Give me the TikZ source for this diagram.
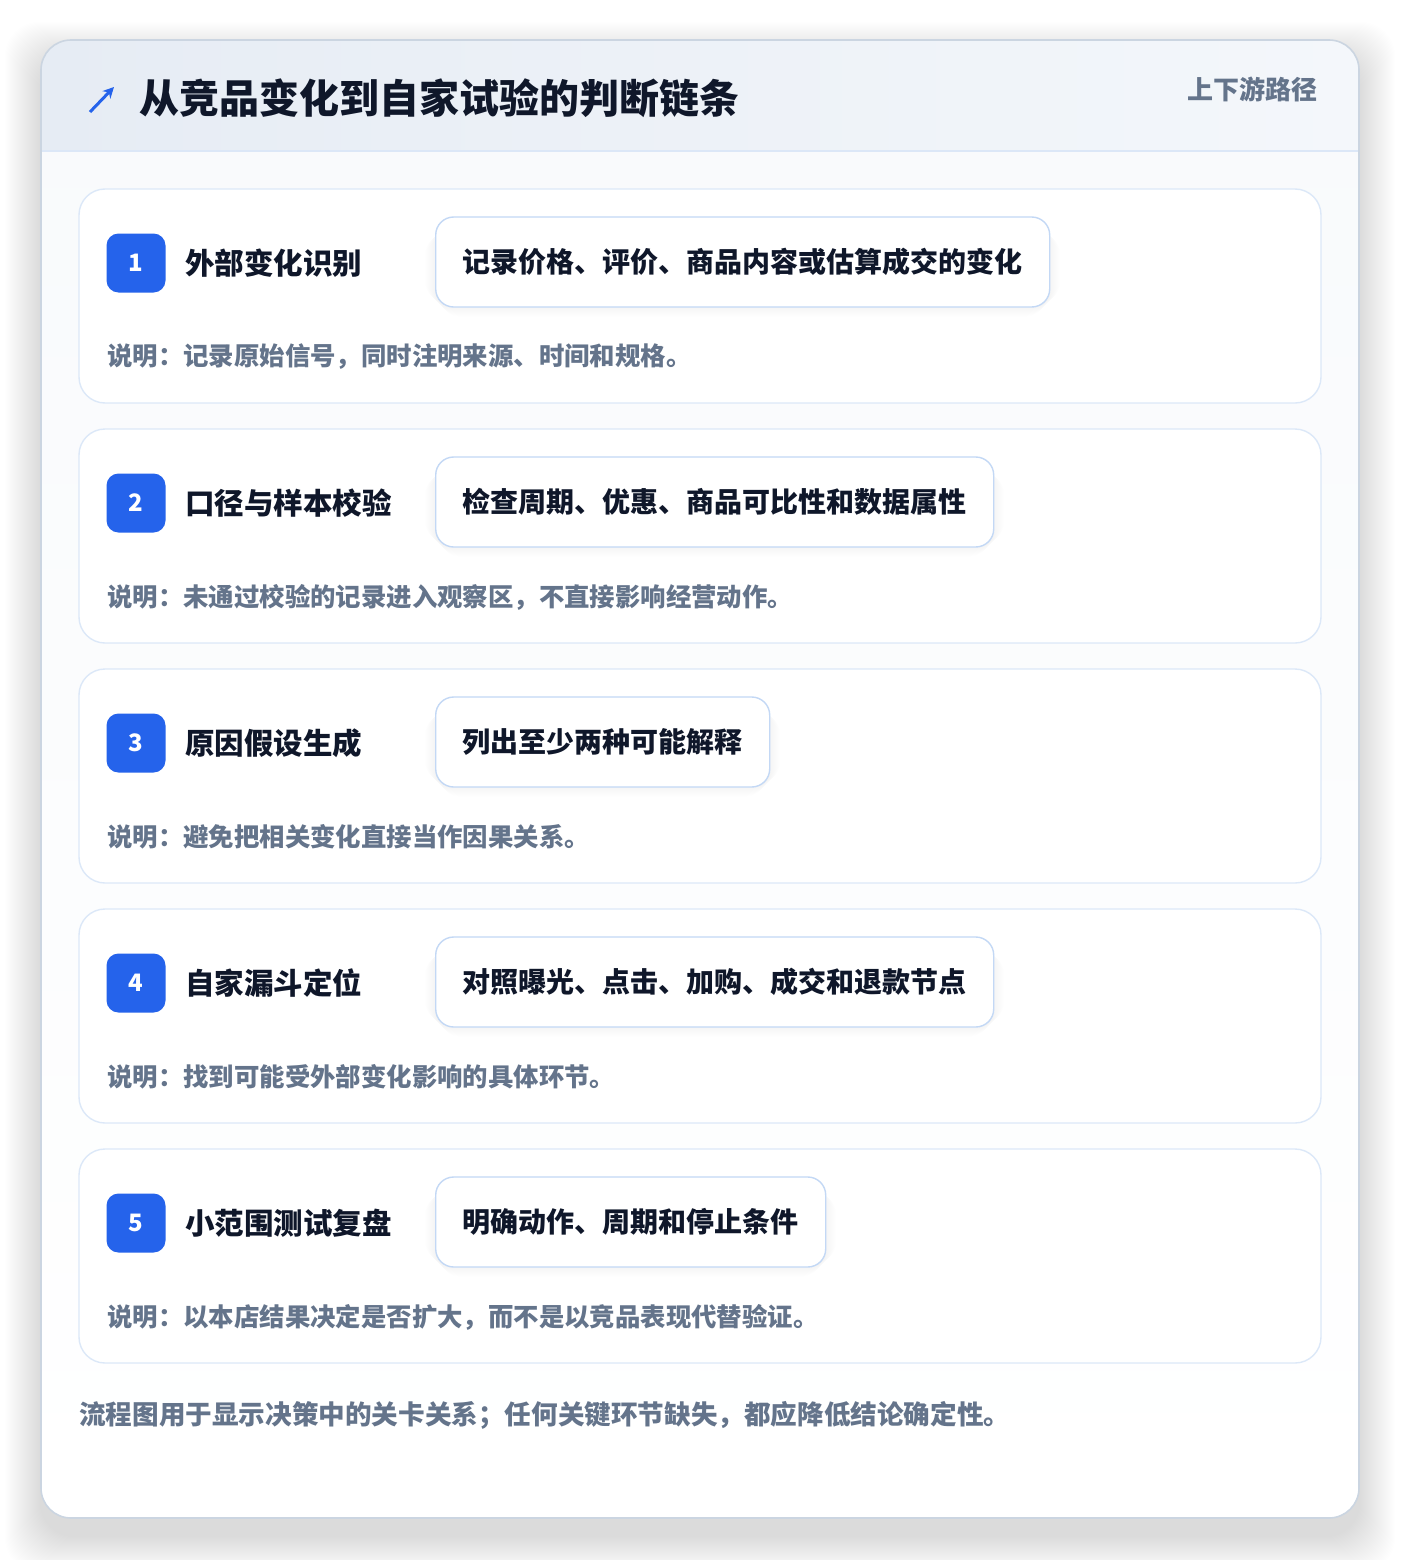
\documentclass[tikz,border=0pt]{standalone}
\usepackage{fontspec}
\setmainfont{Noto Sans CJK SC}
\usetikzlibrary{arrows.meta}
\definecolor{ink}{HTML}{0F172A}
\definecolor{muted}{HTML}{64748B}
\definecolor{accent}{HTML}{2563EB}
\definecolor{cardline}{HTML}{DCE8F8}
\definecolor{pillline}{HTML}{C3D8F5}
\definecolor{outerline}{HTML}{CBD5E1}
\definecolor{hdrL}{HTML}{E6ECF4}
\definecolor{hdrR}{HTML}{F4F7FB}
\definecolor{hdrline}{HTML}{DCE7F7}
\definecolor{bodytop}{HTML}{F8FAFC}
\tikzset{
  stepcard/.style={draw=cardline, line width=1.4pt, fill=white, rounded corners=26pt},
  badgebox/.style={fill=accent, rounded corners=12pt, minimum width=59pt, minimum height=59pt,
    inner sep=0pt, text=white, font=\bfseries\fontsize{24}{24}\selectfont},
  steptitle/.style={anchor=west, text=ink, inner sep=0pt, font=\bfseries\fontsize{29.5}{30}\selectfont},
  pillbox/.style={anchor=west, draw=pillline, line width=1.4pt, fill=white, rounded corners=18pt,
    minimum height=90pt, inner xsep=27pt, inner ysep=0pt, text=ink, font=\bfseries\fontsize{28}{28}\selectfont},
  desctext/.style={anchor=west, text=muted, inner sep=0pt, font=\bfseries\fontsize{25.4}{26}\selectfont},
}
\begin{document}
\begin{tikzpicture}[x=1pt,y=-1pt]
\useasboundingbox (0,0) rectangle (1400,1560);
\fill[white] (0,0) rectangle (1400,1560);
% outer shadow
\foreach \i in {1,...,36}{
  \fill[black, opacity=0.0024, rounded corners=34pt] (41-\i,40-\i+18) rectangle (1359+\i,1518+\i+18);
}
% outer card body
\shade[top color=bodytop, bottom color=white, rounded corners=30pt] (41,40) rectangle (1359,1518);
\begin{scope}
  \clip[rounded corners=30pt] (41,40) rectangle (1359,1518);
  \shade[left color=hdrL, right color=hdrR] (41,40) rectangle (1359,151);
\end{scope}
\draw[hdrline, line width=1.4pt] (42,151) -- (1358,151);
\draw[outerline, line width=1.6pt, rounded corners=30pt] (41,40) rectangle (1359,1518);
% header
\draw[accent, line width=3pt, -{Stealth[length=11pt,width=11pt]}] (90,112) -- (114,87);
\node[anchor=west, inner sep=0pt, text=ink, font=\bfseries\fontsize{40}{40}\selectfont] (title) at (139,98) {从竞品变化到自家试验的判断链条};
\node[anchor=east, inner sep=0pt, text=muted, font=\bfseries\fontsize{26}{26}\selectfont] (tag) at (1318,89) {上下游路径};
% steps
\foreach \i/\t/\p/\d in {
  1/外部变化识别/记录价格、评价、商品内容或估算成交的变化/说明：记录原始信号，同时注明来源、时间和规格。,
  2/口径与样本校验/检查周期、优惠、商品可比性和数据属性/说明：未通过校验的记录进入观察区，不直接影响经营动作。,
  3/原因假设生成/列出至少两种可能解释/说明：避免把相关变化直接当作因果关系。,
  4/自家漏斗定位/对照曝光、点击、加购、成交和退款节点/说明：找到可能受外部变化影响的具体环节。,
  5/小范围测试复盘/明确动作、周期和停止条件/说明：以本店结果决定是否扩大，而不是以竞品表现代替验证。}{
  \pgfmathsetmacro{\top}{189+240*(\i-1)}
  \draw[stepcard] (79,\top) rectangle (1321,\top+214);
  \node[badgebox] (badge\i) at (136,\top+74) {\i};
  \node[steptitle] (title\i) at (185,\top+74) {\t};
  \node[pillbox, opacity=0] (ghost\i) at (435,\top+73) {\p};
  \foreach \k in {1,...,16}{
    \fill[black, opacity=0.0045, rounded corners=20pt] ([xshift=-\k pt+6pt, yshift=-\k pt-2pt]ghost\i.north west) rectangle ([xshift=\k pt-6pt, yshift=\k pt-10pt]ghost\i.south east);
  }
  \node[pillbox] (pill\i) at (435,\top+73) {\p};
  \node[desctext] (desc\i) at (107,\top+168) {\d};
}
\node[anchor=west, inner sep=0pt, text=muted, font=\bfseries\fontsize{26.6}{27}\selectfont] (footer) at (79,1415) {流程图用于显示决策中的关卡关系；任何关键环节缺失，都应降低结论确定性。};
\end{tikzpicture}
\end{document}
